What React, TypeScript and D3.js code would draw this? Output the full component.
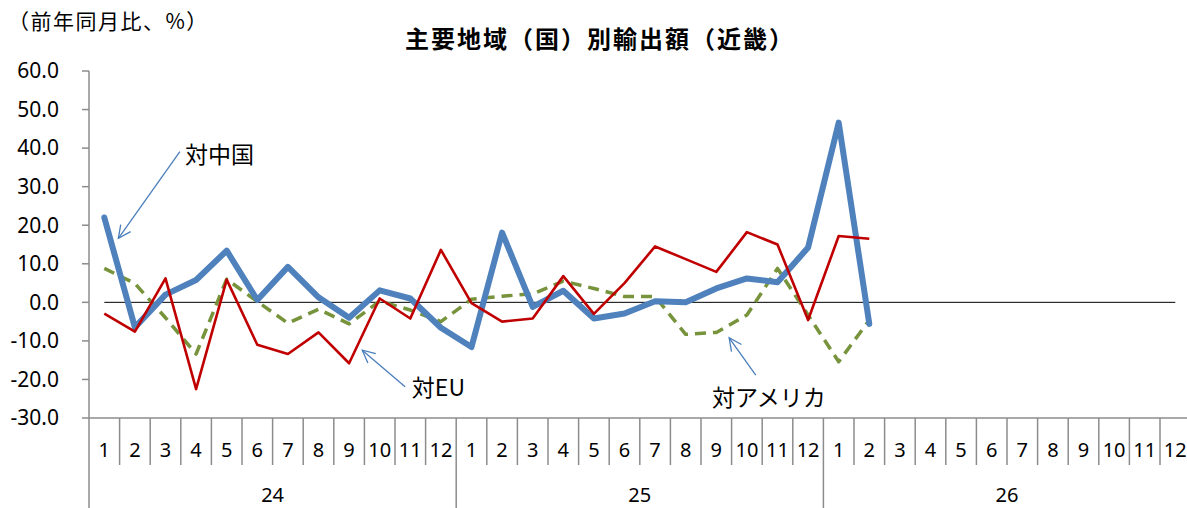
import React from "react";
import * as d3 from "d3";

// 主要地域（国）別輸出額（近畿）、前年同月比
const years = ["24", "25", "26"];
const months = ["1", "2", "3", "4", "5", "6", "7", "8", "9", "10", "11", "12"];
const yTicks = [60, 50, 40, 30, 20, 10, 0, -10, -20, -30];

const china = [22.0, -6.5, 2.0, 5.8, 13.4, 0.6, 9.2, 1.3, -4.0, 3.1, 1.0, -6.6, -11.6, 18.1, -1.2, 3.0, -4.2, -2.9, 0.3, 0.0, 3.6, 6.2, 5.2, 14.2, 46.6, -5.6];
const eu = [-2.9, -7.6, 6.2, -22.5, 5.9, -11.0, -13.4, -7.8, -15.8, 1.0, -4.2, 13.6, -0.2, -5.0, -4.2, 6.8, -3.0, 5.0, 14.5, 11.2, 7.9, 18.2, 15.0, -4.6, 17.2, 16.5];
const usa = [8.8, 4.9, -4.0, -13.4, 6.0, 0.2, -5.4, -1.8, -5.6, 0.3, -2.0, -5.0, 0.8, 1.6, 2.2, 5.5, 3.6, 1.5, 1.5, -8.3, -7.8, -3.3, 8.8, -3.3, -15.4, -4.6];

// annotations in data coords (category index, value)
const notes = [
  { text: "対中国", tip: [0.46, 16.6], tail: [2.47, 39.1], label: [2.64, 38.2] },
  { text: "対EU", tip: [8.43, -12.4], tail: [9.83, -21.9], label: [10.05, -22.2] },
  { text: "対アメリカ", tip: [20.42, -9.2], tail: [21.29, -18.9], label: [19.86, -24.8] },
];

const W = 1187, H = 508;
const left = 89, top = 71, bottom = 418;
const step = 30.6;
const JP = "'Noto Sans CJK JP', 'Noto Sans', sans-serif";
const NUM = "'Noto Sans', 'Liberation Sans', sans-serif";
const AX = "#8c8c8c";

export default function App() {
  const cats = d3.range(years.length * months.length);
  const x = d3.scaleBand<number>().domain(cats).range([left, left + cats.length * step]);
  const bw = x.bandwidth();
  const cx = (i: number) => (x(Math.floor(i)) ?? 0) + bw / 2 + (i - Math.floor(i)) * bw;
  const y = d3.scaleLinear().domain([-30, 60]).range([bottom, top]);

  const line = d3.line<number>().x((_, i) => cx(i)).y((d) => y(d));

  const arrowHead = (tip: number[], tail: number[]) => {
    const tx = cx(tip[0]), ty = y(tip[1]);
    const ang = Math.atan2(y(tail[1]) - ty, cx(tail[0]) - tx);
    const L = 14, a = 0.45;
    const p1 = [tx + L * Math.cos(ang + a), ty + L * Math.sin(ang + a)];
    const p2 = [tx + L * Math.cos(ang - a), ty + L * Math.sin(ang - a)];
    return `M${p1[0]},${p1[1]}L${tx},${ty}L${p2[0]},${p2[1]}`;
  };

  return (
    <svg width={W} height={H} style={{ position: "absolute", left: 0, top: 0, background: "#fff" }}>
      <text x={8} y={29} fontFamily={JP} fontSize={21} letterSpacing={1.5} fill="#000">（前年同月比、%）</text>
      <text x={600} y={48} textAnchor="middle" fontFamily={JP} fontSize={24} fontWeight="bold" letterSpacing={2} fill="#000">
        主要地域（国）別輸出額（近畿）
      </text>

      {/* y axis */}
      <line x1={left} x2={left} y1={top} y2={H} stroke={AX} strokeWidth={1.5} />
      {yTicks.map((t) => (
        <g key={t}>
          <line x1={left - 7} x2={left} y1={y(t)} y2={y(t)} stroke={AX} strokeWidth={1.5} />
          <text x={59} y={y(t)} dy="0.35em" textAnchor="end" fontFamily={NUM} fontSize={21} fill="#000">
            {t.toFixed(1)}
          </text>
        </g>
      ))}

      {/* category axis */}
      <line x1={left} x2={W} y1={bottom} y2={bottom} stroke={AX} strokeWidth={1.5} />
      {cats.map((c) => (
        <g key={c}>
          <line x1={x(c)! + bw} x2={x(c)! + bw} y1={bottom} y2={(c + 1) % 12 === 0 ? H : 465} stroke={AX} strokeWidth={1.5} />
          <text x={cx(c)} y={450} dy="0.35em" textAnchor="middle" fontFamily={NUM} fontSize={20} fill="#000">
            {months[c % 12]}
          </text>
        </g>
      ))}
      {years.map((yr, k) => (
        <text key={yr} x={left + (k * 12 + 6) * bw} y={495} dy="0.35em" textAnchor="middle" fontFamily={NUM} fontSize={20} fill="#000">
          {yr}
        </text>
      ))}

      {/* zero line */}
      <line x1={cx(0)} x2={cx(cats.length - 1)} y1={y(0)} y2={y(0)} stroke="#000" strokeWidth={1} />

      <path d={line(usa) ?? ""} fill="none" stroke="#77933C" strokeWidth={3.5} strokeDasharray="11 7" strokeLinejoin="round" />
      <path d={line(china) ?? ""} fill="none" stroke="#4F81BD" strokeWidth={6} strokeLinejoin="round" strokeLinecap="round" />
      <path d={line(eu) ?? ""} fill="none" stroke="#C00000" strokeWidth={2.6} strokeLinejoin="round" />

      {notes.map((n) => (
        <g key={n.text}>
          <line x1={cx(n.tail[0])} y1={y(n.tail[1])} x2={cx(n.tip[0])} y2={y(n.tip[1])} stroke="#4A7EBB" strokeWidth={1.3} />
          <path d={arrowHead(n.tip, n.tail)} fill="none" stroke="#4A7EBB" strokeWidth={1.3} />
          <text x={cx(n.label[0])} y={y(n.label[1])} dy="0.35em" fontFamily={JP} fontSize={23} fill="#000">
            {n.text}
          </text>
        </g>
      ))}
    </svg>
  );
}
